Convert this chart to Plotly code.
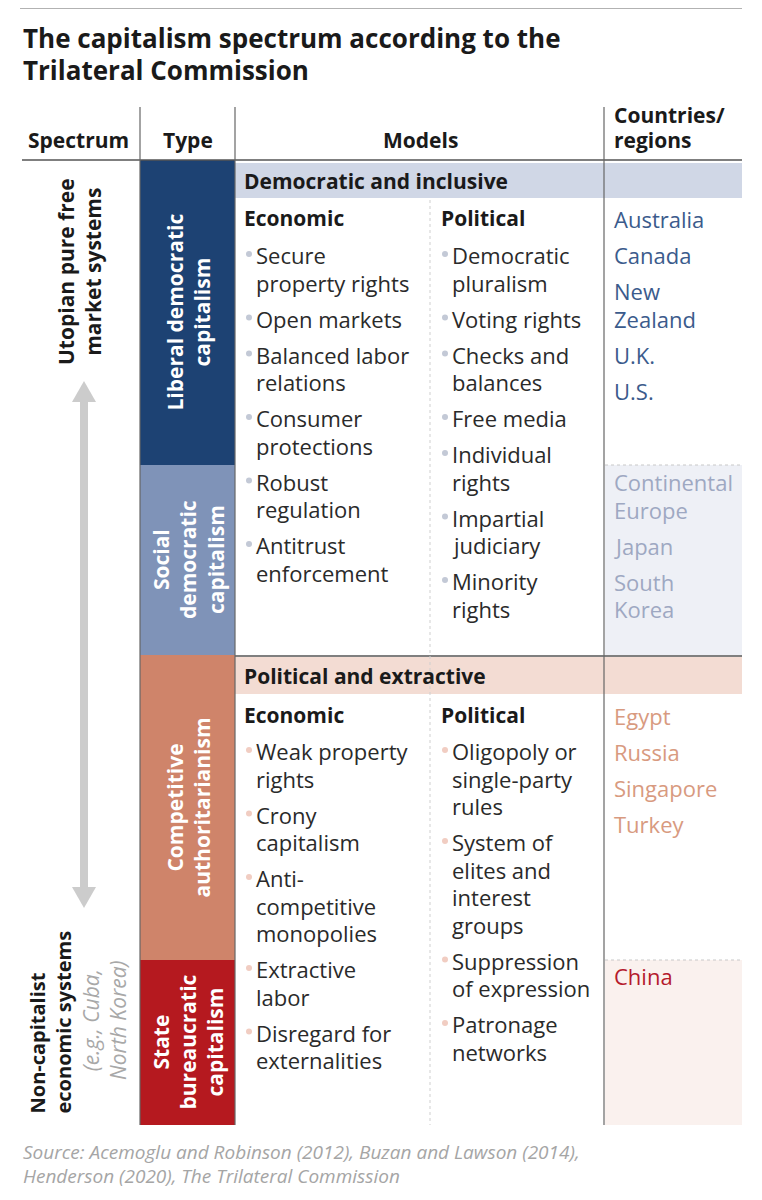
import plotly.graph_objects as go

# ---- content ----
title = "The capitalism spectrum according to the<br>Trilateral Commission"
source = "Source: Acemoglu and Robinson (2012), Buzan and Lawson (2014),<br>Henderson (2020), The Trilateral Commission"

types = ["Liberal democratic<br>capitalism", "Social<br>democratic<br>capitalism",
         "Competitive<br>authoritarianism", "State<br>bureaucratic<br>capitalism"]
type_spans = [(160, 465), (465, 655), (655, 960), (960, 1125)]
type_colors = ["#1d4273", "#7f93b8", "#cf846a", "#b5191f"]

groups = ["Democratic and inclusive", "Political and extractive"]

econ_top = ["Secure<br>property rights", "Open markets", "Balanced labor<br>relations",
            "Consumer<br>protections", "Robust<br>regulation", "Antitrust<br>enforcement"]
pol_top = ["Democratic<br>pluralism", "Voting rights", "Checks and<br>balances", "Free media",
           "Individual<br>rights", "Impartial<br>judiciary", "Minority<br>rights"]
econ_bot = ["Weak property<br>rights", "Crony<br>capitalism", "Anti-<br>competitive<br>monopolies",
            "Extractive<br>labor", "Disregard for<br>externalities"]
pol_bot = ["Oligopoly or<br>single-party<br>rules", "System of<br>elites and<br>interest<br>groups",
           "Suppression<br>of expression", "Patronage<br>networks"]

countries_a = ["Australia", "Canada", "New<br>Zealand", "U.K.", "U.S."]
countries_b = ["Continental<br>Europe", "Japan", "South<br>Korea"]
countries_c = ["Egypt", "Russia", "Singapore", "Turkey"]
countries_d = ["China"]

FONT = "Open Sans"
LINE = 27.5
GAP = 8.5
BODY = 22

fig = go.Figure()
shapes = []
ann = []


def text(x, y, s, size=BODY, color="#222", bold=False, xa="left", ya="middle", angle=0, align="left", italic=False):
    ann.append(dict(x=x, y=y, text=s, showarrow=False, xanchor=xa, yanchor=ya, textangle=angle,
                    align=align, borderpad=0,
                    font=dict(family=FONT, size=size, color=color,
                              weight="bold" if bold else "normal",
                              style="italic" if italic else "normal")))


def item_list(x, y0, items, color, bullet=None):
    # y0 is centre of first line; each line placed on its own
    y = y0
    bx, by = [], []
    for it in items:
        lines = it.split("<br>")
        bx.append(x - 6)
        by.append(y - 1)
        for ln in lines:
            text(x, y, ln, color=color)
            y += LINE
        y += GAP
    if bullet:
        fig.add_trace(go.Scatter(x=bx, y=by, mode="markers", hoverinfo="skip",
                                 marker=dict(size=6, color=bullet), showlegend=False))


# top rule
shapes.append(dict(type="line", x0=20, x1=742, y0=8, y1=8, line=dict(color="#999", width=1.5)))
text(22, 38, "The capitalism spectrum according to the", size=26, color="#1a1a1a", bold=True)
text(22, 70, "Trilateral Commission", size=26, color="#1a1a1a", bold=True)

# coloured type bars
for (y0, y1), c, lab in zip(type_spans, type_colors, types):
    shapes.append(dict(type="rect", x0=140, x1=235, y0=y0, y1=y1, fillcolor=c, line=dict(width=0)))
    text(188, (y0 + y1) / 2, lab, size=21, color="white", bold=True, xa="center", angle=-90, align="center")

# light country backgrounds
shapes.append(dict(type="rect", x0=605, x1=742, y0=465, y1=655, fillcolor="#eef0f6", line=dict(width=0)))
shapes.append(dict(type="rect", x0=605, x1=742, y0=960, y1=1125, fillcolor="#faf1ee", line=dict(width=0)))
for yy in (465, 960):
    shapes.append(dict(type="line", x0=605, x1=742, y0=yy, y1=yy, line=dict(color="#c8c8c8", width=1, dash="dot")))

# group bands
shapes.append(dict(type="rect", x0=235, x1=742, y0=163, y1=198, fillcolor="#d0d7e6", line=dict(width=0)))
shapes.append(dict(type="rect", x0=235, x1=742, y0=657, y1=694, fillcolor="#f3dcd3", line=dict(width=0)))
text(243, 181, groups[0], size=21, color="#1a1a1a", bold=True)
text(243, 676, groups[1], size=21, color="#1a1a1a", bold=True)

# grid lines
shapes.append(dict(type="line", x0=22, x1=742, y0=160, y1=160, line=dict(color="#555", width=1.5)))
shapes.append(dict(type="line", x0=235, x1=742, y0=656, y1=656, line=dict(color="#555", width=1.5)))
for xx in (140, 235, 604):
    shapes.append(dict(type="line", x0=xx, x1=xx, y0=107, y1=1125, line=dict(color="#666", width=1.2)))
shapes.append(dict(type="line", x0=430, x1=430, y0=200, y1=1125, line=dict(color="#cfcfcf", width=1, dash="dot")))

# headers
text(78, 140, "Spectrum", size=21, color="#1a1a1a", bold=True, xa="center")
text(188, 140, "Type", size=21, color="#1a1a1a", bold=True, xa="center")
text(420, 140, "Models", size=21, color="#1a1a1a", bold=True, xa="center")
text(613, 115, "Countries/", size=21, color="#1a1a1a", bold=True)
text(613, 140, "regions", size=21, color="#1a1a1a", bold=True)

# spectrum column
text(79, 272, "Utopian pure free<br>market systems", size=21, color="#1a1a1a", bold=True,
     xa="center", angle=-90, align="center")
text(50, 1115, "Non-capitalist<br>economic systems", size=20, color="#1a1a1a", bold=True,
     xa="center", ya="bottom", angle=-90, align="left")
text(104, 1020, "(e.g., Cuba,<br>North Korea)", size=21, color="#a8a8a8", italic=True,
     xa="center", angle=-90, align="center")
shapes.append(dict(type="line", x0=84, x1=84, y0=400, y1=890, line=dict(color="#cccccc", width=8)))
shapes.append(dict(type="path", path="M 72 402 L 84 381 L 96 402 Z", fillcolor="#cccccc", line=dict(width=0)))
shapes.append(dict(type="path", path="M 72 887 L 84 908 L 96 887 Z", fillcolor="#cccccc", line=dict(width=0)))

# models
for y in (218, 715):
    text(243, y, "Economic", size=21, color="#1a1a1a", bold=True)
    text(440, y, "Political", size=21, color="#1a1a1a", bold=True)
item_list(255, 255, econ_top, "#2a2a2a", "#c3c9d6")
item_list(451, 255, pol_top, "#2a2a2a", "#c3c9d6")
item_list(255, 751, econ_bot, "#2a2a2a", "#f1cdc2")
item_list(451, 751, pol_bot, "#2a2a2a", "#f1cdc2")

# countries
item_list(613, 219, countries_a, "#3b5b8c")
item_list(613, 482, countries_b, "#9ea8c2")
item_list(613, 716, countries_c, "#d89a80")
item_list(613, 976, countries_d, "#b51a2c")

# source
text(22, 1152, "Source: Acemoglu and Robinson (2012), Buzan and Lawson (2014),", size=19, color="#a5a5a5", italic=True)
text(22, 1176, "Henderson (2020), The Trilateral Commission", size=19, color="#a5a5a5", italic=True)

# page body has an 8px margin, so shift the axis window to compensate
fig.update_layout(
    width=762, height=1200, margin=dict(l=0, r=0, t=0, b=0),
    paper_bgcolor="white", plot_bgcolor="white",
    xaxis=dict(range=[8, 770], visible=False, fixedrange=True),
    yaxis=dict(range=[1208, 8], visible=False, fixedrange=True),
    shapes=shapes, annotations=ann, showlegend=False,
)

fig.write_html("out.html")
